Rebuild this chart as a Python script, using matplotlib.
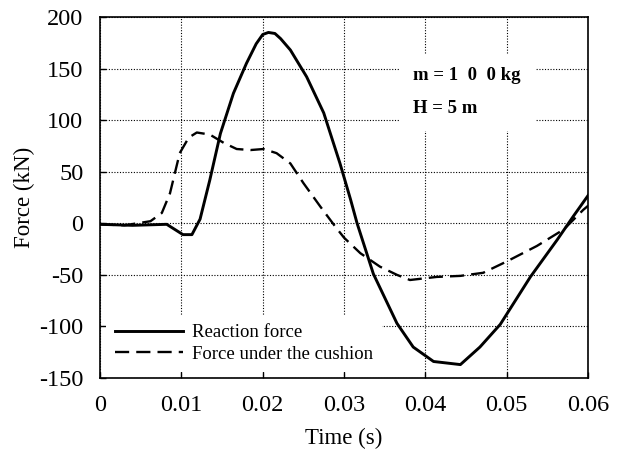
import matplotlib.pyplot as plt

plt.rcParams['font.family'] = ['Liberation Serif', 'DejaVu Serif']
plt.rcParams['axes.unicode_minus'] = False

# reaction force (solid)
t_reac = [0.0, 0.004, 0.0082, 0.0092, 0.0102, 0.0113, 0.0123, 0.0135, 0.0148,
          0.0164, 0.018, 0.0192, 0.0200, 0.0207, 0.0215, 0.0222, 0.0234,
          0.0254, 0.0275, 0.0295, 0.0308, 0.0316, 0.0336, 0.0365, 0.0385,
          0.041, 0.0443, 0.0467, 0.0492, 0.0529, 0.0562, 0.0582, 0.060]
f_reac = [-1, -2, -1, -6, -11, -11, 4, 42, 87, 126, 155, 174, 183, 185, 184,
          179, 168, 142, 107, 58, 23, 0, -49, -97, -120, -134, -137, -120,
          -98, -52, -16, 7, 27]

# force under the cushion (dashed)
t_cush = [0.0, 0.003, 0.0062, 0.0076, 0.0086, 0.0098, 0.0109, 0.0119, 0.0135,
          0.0152, 0.0168, 0.0185, 0.0201, 0.0217, 0.0234, 0.025, 0.0271,
          0.0289, 0.030, 0.032, 0.0344, 0.0365, 0.0381, 0.0414, 0.0443,
          0.0471, 0.050, 0.0537, 0.057, 0.0594, 0.060]
f_cush = [-1, -2, 2, 10, 29, 68, 83, 88, 86, 78, 72, 71, 72, 68, 58, 39, 16,
          -3, -14, -29, -42, -50, -55, -52, -51, -48, -37, -22, -6, 13, 17]

xticks = [0, 0.01, 0.02, 0.03, 0.04, 0.05, 0.06]
xlabels = ['0', '0.01', '0.02', '0.03', '0.04', '0.05', '0.06']
yticks = [-150, -100, -50, 0, 50, 100, 150, 200]

fig = plt.figure(figsize=(6.25, 4.54), dpi=100)
ax = fig.add_axes([0.16, 0.1674, 0.781, 0.7952])

ax.plot(t_reac, f_reac, color='black', lw=2.1, label='Reaction force',
        solid_joinstyle='round')
ax.plot(t_cush, f_cush, color='black', lw=1.7, dashes=(6, 3),
        label='Force under the cushion', dash_joinstyle='round')

ax.set_xlim(0, 0.06)
ax.set_ylim(-150, 200)
ax.set_xticks(xticks)
ax.set_xticklabels(xlabels)
ax.set_yticks(yticks)
ax.tick_params(direction='in', labelsize=17.5, length=4, width=1)
ax.tick_params(axis='x', pad=12)
ax.tick_params(axis='y', pad=12)
ax.grid(True, color='black', lw=0.8, linestyle=(0, (1, 1.5)))
ax.set_axisbelow(True)
for s in ax.spines.values():
    s.set_linewidth(1.2)

ax.set_xlabel('Time (s)', fontsize=16.5, labelpad=9)
ax.set_ylabel('Force (kN)', fontsize=16.5, labelpad=3)

ax.text(0.0385, 127, 'm = 1  0  0 kg\n\nH = 5 m', fontsize=13.5,
        fontweight='bold', va='center', ha='left', linespacing=0.95,
        bbox=dict(facecolor='white', edgecolor='none', pad=10))

leg = ax.legend(loc='lower left', fontsize=13.5, frameon=True, fancybox=False,
                edgecolor='none', framealpha=1, handlelength=3.6,
                handletextpad=0.5, borderpad=0.5, labelspacing=0.25,
                borderaxespad=0.3)

fig.savefig('out.png', dpi=100)
